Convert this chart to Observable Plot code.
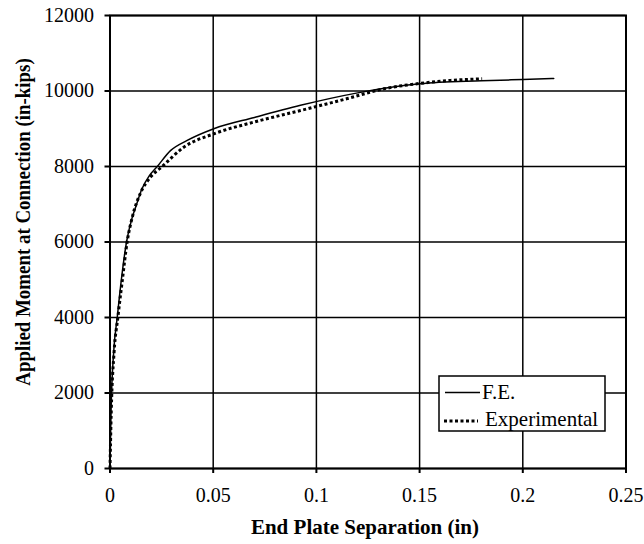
<!DOCTYPE html>
<html><head><meta charset="utf-8">
<script src="https://cdn.jsdelivr.net/npm/d3@7"></script>
<script src="https://cdn.jsdelivr.net/npm/@observablehq/plot@0.6"></script>
<style>
html,body{margin:0;padding:0;background:#fff;}
#chart{width:644px;height:544px;}
</style>
</head><body><div id="chart"></div>
<script>
const feSep = [0, 0.0005, 0.0018, 0.0035, 0.0055, 0.008, 0.0105, 0.0124, 0.0155, 0.019, 0.0229, 0.0293, 0.0374, 0.0503, 0.07, 0.0923, 0.12, 0.15, 0.18, 0.2, 0.215];
const feMoment = [0, 1500, 3100, 4000, 5000, 6000, 6600, 6920, 7410, 7750, 8000, 8420, 8690, 9000, 9300, 9620, 9950, 10190, 10270, 10305, 10330];
const expSep = [0, 0.0006, 0.002, 0.0038, 0.006, 0.0083, 0.011, 0.0148, 0.0196, 0.0253, 0.0357, 0.0503, 0.07, 0.0923, 0.115, 0.1327, 0.15, 0.165, 0.1803];
const expMoment = [0, 1500, 3100, 4000, 5000, 6000, 6700, 7300, 7717, 8000, 8510, 8866, 9180, 9483, 9800, 10058, 10200, 10280, 10323];
const xTicks = [0, 0.05, 0.1, 0.15, 0.2, 0.25];
const yTicks = [0, 2000, 4000, 6000, 8000, 10000, 12000];
const seriesNames = ["F.E.", "Experimental"];

const fe = feSep.map((x, i) => ({x, y: feMoment[i]}));
const ex = expSep.map((x, i) => ({x, y: expMoment[i]}));

const font = "'Liberation Serif', 'Times New Roman', serif";

const plot = Plot.plot({
  width: 644,
  height: 544,
  marginLeft: 109.5,
  marginRight: 18.5,
  marginTop: 15,
  marginBottom: 76,
  style: {fontFamily: font, fontSize: "20px", color: "#000", background: "#fff"},
  x: {domain: [0, 0.25], label: null},
  y: {domain: [0, 12000], label: null},
  marks: [
    Plot.gridX(xTicks, {stroke: "#000", strokeOpacity: 1, strokeWidth: 1.5}),
    Plot.gridY(yTicks, {stroke: "#000", strokeOpacity: 1, strokeWidth: 1.5}),
    Plot.frame({stroke: "#000", strokeWidth: 2}),
    Plot.axisX(xTicks, {tickFormat: d => String(d), tickSize: 5, tickPadding: 14, strokeWidth: 2, fontSize: 20, label: null}),
    Plot.axisY(yTicks, {tickFormat: d => String(d), tickSize: 5, tickPadding: 11, strokeWidth: 2, fontSize: 20, label: null}),
    Plot.line(fe, {x: "x", y: "y", stroke: "#000", strokeWidth: 1.5, curve: "monotone-x"}),
    Plot.line(ex, {x: "x", y: "y", stroke: "#000", strokeWidth: 3, strokeDasharray: "3,2.5", strokeLinecap: "butt", curve: "monotone-x"})
  ]
});

const svg = d3.select(plot);
// axis titles
svg.append("text").attr("x", 365).attr("y", 534).attr("text-anchor", "middle")
  .attr("font-family", font).attr("font-weight", "bold").attr("font-size", 21).attr("fill", "#000")
  .text("End Plate Separation (in)");
svg.append("text").attr("transform", "translate(30,222) rotate(-90) scale(0.9,1)").attr("text-anchor", "middle")
  .attr("font-family", font).attr("font-weight", "bold").attr("font-size", 21).attr("fill", "#000")
  .text("Applied Moment at Connection (in-kips)");
// legend
const lg = svg.append("g");
lg.append("rect").attr("x", 439).attr("y", 376).attr("width", 166).attr("height", 55)
  .attr("fill", "#fff").attr("stroke", "#000").attr("stroke-width", 1.5);
lg.append("line").attr("x1", 445).attr("x2", 480).attr("y1", 392.5).attr("y2", 392.5)
  .attr("stroke", "#000").attr("stroke-width", 1.5);
lg.append("line").attr("x1", 444).attr("x2", 478).attr("y1", 421).attr("y2", 421)
  .attr("stroke", "#000").attr("stroke-width", 3).attr("stroke-dasharray", "3,2.5");
lg.append("text").attr("x", 482).attr("y", 399).attr("text-anchor", "start").attr("font-family", font).attr("font-size", 21).attr("fill", "#000").text(seriesNames[0]);
lg.append("text").attr("x", 485).attr("y", 426).attr("text-anchor", "start").attr("font-family", font).attr("font-size", 21).attr("fill", "#000").text(seriesNames[1]);

document.getElementById("chart").appendChild(plot);
</script>
</body></html>
